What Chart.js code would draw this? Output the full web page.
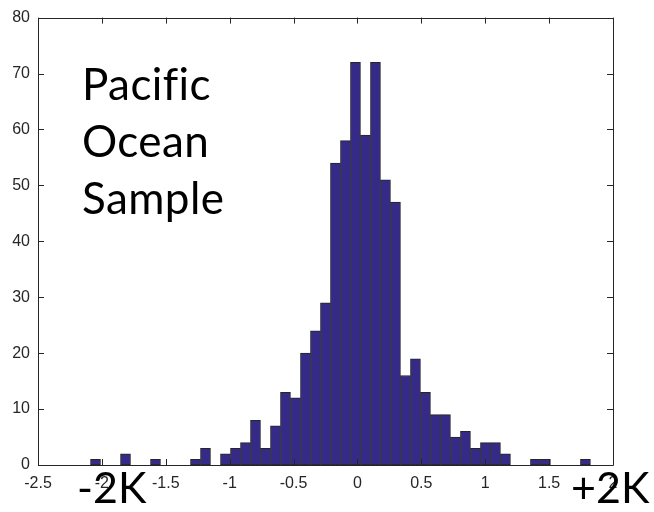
<!DOCTYPE html>
<html>
<head>
<meta charset="utf-8">
<script src="https://cdn.jsdelivr.net/npm/chart.js@4"></script>
<style>
  html, body { margin: 0; padding: 0; background: #fff; }
  #wrap { width: 654px; height: 512px; }
</style>
</head>
<body>
<div id="wrap"><canvas id="chart"></canvas></div>
<script>
// bin centres of the histogram (50 bins)
const binCenters = [
  -2.05, -1.97175, -1.8935, -1.81525, -1.737, -1.65875, -1.5805, -1.50225, -1.424, -1.34575,
  -1.2675, -1.18925, -1.111, -1.03275, -0.9545, -0.87625, -0.798, -0.71975, -0.6415, -0.56325,
  -0.485, -0.40675, -0.3285, -0.25025, -0.172, -0.09375, -0.0155, 0.06275, 0.141, 0.21925,
  0.2975, 0.37575, 0.454, 0.53225, 0.6105, 0.68875, 0.767, 0.84525, 0.9235, 1.00175,
  1.08, 1.15825, 1.2365, 1.31475, 1.393, 1.47125, 1.5495, 1.62775, 1.706, 1.78425
];
// counts per bin
const counts = [
  1, 0, 0, 2, 0, 0, 1, 0, 0, 0,
  1, 3, 0, 2, 3, 4, 8, 3, 7, 13,
  12, 20, 24, 29, 54, 58, 72, 59, 72, 51,
  47, 16, 19, 13, 9, 9, 5, 6, 3, 4,
  4, 2, 0, 0, 1, 1, 0, 0, 0, 1
];
const xTicks = [-2.5, -2, -1.5, -1, -0.5, 0, 0.5, 1, 1.5, 2];
const yTicks = [0, 10, 20, 30, 40, 50, 60, 70, 80];
const noteLines = ['Pacific', 'Ocean', 'Sample'];
const leftNote = '-2K';
const rightNote = '+2K';

const axisColor = '#262626';

// box with inward ticks, MATLAB style, plus the text notes
const boxPlugin = {
  id: 'box',
  afterDatasetsDraw(chart) {
    const ctx = chart.ctx;
    const a = chart.chartArea;
    const xs = chart.scales.x, ys = chart.scales.y;
    ctx.save();
    ctx.strokeStyle = axisColor;
    ctx.lineWidth = 1;
    ctx.beginPath();
    ctx.rect(Math.round(a.left) + 0.5, Math.round(a.top) + 0.5,
             Math.round(a.right - a.left), Math.round(a.bottom - a.top));
    const len = 6;
    xTicks.forEach(v => {
      const px = Math.round(xs.getPixelForValue(v)) + 0.5;
      ctx.moveTo(px, a.bottom); ctx.lineTo(px, a.bottom - len);
      ctx.moveTo(px, a.top); ctx.lineTo(px, a.top + len);
    });
    yTicks.forEach(v => {
      const py = Math.round(ys.getPixelForValue(v)) + 0.5;
      ctx.moveTo(a.left, py); ctx.lineTo(a.left + len, py);
      ctx.moveTo(a.right, py); ctx.lineTo(a.right - len, py);
    });
    ctx.stroke();
    ctx.restore();
  },
  afterDraw(chart) {
    const ctx = chart.ctx;
    ctx.save();
    ctx.fillStyle = '#000';
    ctx.textBaseline = 'alphabetic';
    ctx.letterSpacing = '0.4px'; // keeps "f" and "i" apart
    ctx.font = '44px Lato';
    noteLines.forEach((t, i) => ctx.fillText(t, 82, 100 + i * 57));
    ctx.letterSpacing = '0px';
    ctx.font = '43px Lato';
    ctx.fillText(leftNote, 77, 503);
    ctx.fillText(rightNote, 571, 503);
    ctx.restore();
  }
};

new Chart(document.getElementById('chart'), {
  type: 'bar',
  data: {
    datasets: [{
      data: binCenters.map((c, i) => ({ x: c, y: counts[i] })),
      backgroundColor: '#352a87',
      borderColor: '#262626',
      borderWidth: 1,
      borderSkipped: false,
      barPercentage: 1,
      categoryPercentage: 1
    }]
  },
  options: {
    responsive: true,
    maintainAspectRatio: false,
    animation: false,
    layout: { padding: { top: 15, right: 41, left: 0, bottom: 0 } },
    plugins: { legend: { display: false }, tooltip: { enabled: false } },
    scales: {
      x: {
        type: 'linear',
        offset: false,
        min: -2.5,
        max: 2,
        afterBuildTicks: s => { s.ticks = xTicks.map(v => ({ value: v })); },
        afterFit: s => { s.height = 47; },
        grid: { display: false, drawTicks: false },
        border: { display: false },
        ticks: {
          color: axisColor,
          padding: 9,
          maxRotation: 0,
          font: { family: 'Liberation Sans', size: 16 },
          callback: v => String(v)
        }
      },
      y: {
        min: 0,
        max: 80,
        afterBuildTicks: s => { s.ticks = yTicks.map(v => ({ value: v })); },
        afterFit: s => { s.width = 38; },
        grid: { display: false, drawTicks: false },
        border: { display: false },
        ticks: {
          color: axisColor,
          padding: 8,
          font: { family: 'Liberation Sans', size: 16 }
        }
      }
    }
  },
  plugins: [boxPlugin]
});
</script>
</body>
</html>
